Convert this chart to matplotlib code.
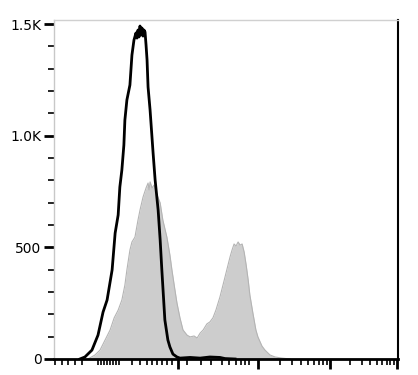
"""
Histograma de citometria: control (linea negra) frente a muestra (gris).
"""

import matplotlib
matplotlib.use("Agg")
import matplotlib.pyplot as plt
from matplotlib.ticker import FixedLocator

# canal (0-1024) y cuentas
canal_control = [77, 92, 113, 131, 146, 158, 173, 182, 191, 196, 202, 208, 211,
                 217, 226, 232, 238, 244, 247, 250, 253, 256, 259, 262, 265, 268,
                 271, 274, 277, 280, 286, 295, 301, 310, 316, 321, 330, 339, 345,
                 354, 366, 375, 405, 435, 464, 494, 509, 539]
cuentas_control = [0, 9, 40, 107, 210, 264, 399, 564, 645, 770, 846, 958, 1070,
                   1160, 1227, 1361, 1428, 1460, 1437, 1473, 1442, 1491, 1451,
                   1482, 1446, 1473, 1464, 1406, 1339, 1218, 1115, 922, 802, 667,
                   533, 399, 175, 85, 54, 22, 9, 4, 7, 4, 9, 7, 2, 0]

canal_muestra = [101, 122, 137, 152, 167, 179, 191, 202, 211, 217, 226, 232, 241,
                 250, 256, 265, 274, 280, 283, 286, 292, 298, 307, 316, 324, 336,
                 345, 351, 360, 366, 375, 384, 396, 405, 417, 426, 435, 444, 455,
                 464, 473, 482, 494, 503, 509, 518, 524, 530, 536, 542, 548, 554,
                 560, 566, 572, 578, 583, 592, 601, 607, 619, 628, 643, 658, 679,
                 703]
cuentas_muestra = [0, 18, 40, 85, 130, 184, 219, 264, 331, 399, 488, 524, 546,
                   622, 667, 725, 766, 788, 757, 793, 766, 779, 734, 699, 622, 546,
                   466, 399, 309, 251, 184, 130, 107, 99, 103, 94, 116, 130, 157,
                   166, 184, 219, 278, 331, 367, 421, 457, 488, 515, 506, 524, 510,
                   515, 479, 421, 354, 287, 206, 130, 99, 58, 40, 18, 9, 4, 0]

# marcas del eje x (escala biexponencial, en canales)
x_mayores = [369, 607, 821, 1021]
x_menores = [3, 24, 42, 63, 83, 131, 140, 149, 158, 167, 176, 185, 193, 232, 256,
             277, 292, 307, 321, 336, 351, 396, 438, 467, 500, 521, 541, 557, 569,
             580, 673, 708, 735, 756, 774, 789, 801, 813, 881, 917, 940, 961, 976,
             991, 1000, 1012]
x_etiquetas = ["0", "10³", "10⁴", "10⁵"]
x_pos_etiquetas = [429, 667, 872, 1021]

y_mayores = [0, 500, 1000, 1500]
y_etiquetas = ["0", "500", "1.0K", "1.5K"]
y_menores = list(range(100, 1500, 100))


def main():
    fig = plt.figure(figsize=(4.18, 3.75), dpi=100)
    ax = fig.add_axes([54 / 418, 1 - 359 / 375, 344 / 418, 339 / 375])

    ax.fill_between(canal_muestra, cuentas_muestra, color="#cdcdcd", lw=0)
    ax.plot(canal_muestra, cuentas_muestra, color="#b4b4b4", lw=0.8)
    ax.plot(canal_control, cuentas_control, color="black", lw=2)

    ax.set_xlim(0, 1024)
    ax.set_ylim(0, 1518)

    ax.xaxis.set_major_locator(FixedLocator(x_mayores))
    ax.xaxis.set_minor_locator(FixedLocator(x_menores))
    ax.set_xticklabels([])
    ax.yaxis.set_major_locator(FixedLocator(y_mayores))
    ax.yaxis.set_minor_locator(FixedLocator(y_menores))
    ax.set_yticklabels(y_etiquetas)

    ax.tick_params(axis="both", which="major", length=7, width=2, color="black")
    ax.tick_params(axis="both", which="minor", length=4, width=1.2, color="black")
    ax.tick_params(axis="y", labelsize=10, pad=2)

    # etiquetas del eje x: en el original solo asoma el borde superior
    for t, xp in zip(x_etiquetas, x_pos_etiquetas):
        ax.text(xp, -0.044, t, transform=ax.get_xaxis_transform(),
                ha="center", va="top", fontsize=10)

    ax.spines["left"].set_color("#c8c8c8")
    ax.spines["left"].set_linewidth(1)
    ax.spines["top"].set_color("#d0d0d0")
    ax.spines["top"].set_linewidth(1)
    ax.spines["right"].set_color("black")
    ax.spines["right"].set_linewidth(1.5)
    ax.spines["bottom"].set_color("black")
    ax.spines["bottom"].set_linewidth(2)

    fig.savefig("out.png", dpi=100)


if __name__ == "__main__":
    main()
